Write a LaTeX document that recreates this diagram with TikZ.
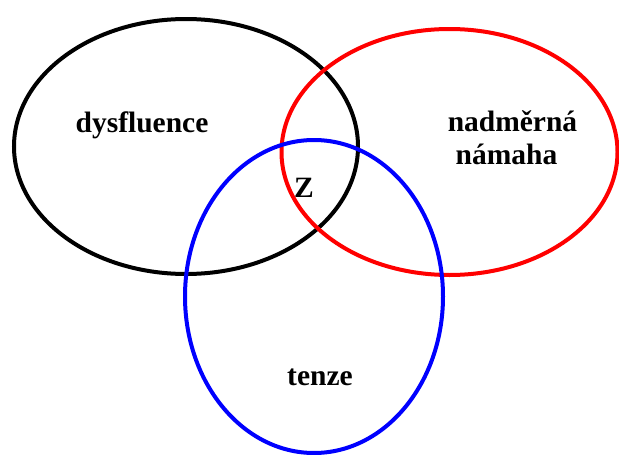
\documentclass[tikz,border=0pt]{standalone}
\usepackage{fontspec}
\setmainfont{Liberation Serif}
\begin{document}
\begin{tikzpicture}[x=1pt,y=-1pt,
  ring/.style={line width=4pt},
  lbl/.style={font=\fontsize{29.5}{32}\selectfont\bfseries, anchor=base, inner sep=0pt}]
\useasboundingbox (0,0) rectangle (619,455);
\draw[ring,black] (186,146.5) ellipse [x radius=172, y radius=127.5];
\draw[ring,red] (449.5,152) ellipse [x radius=168, y radius=123];
\draw[ring,blue] (314,296.5) ellipse [x radius=129, y radius=156.5];
\node[lbl] (dys) at (142,132) {dysfluence};
\node[lbl] (nad) at (512.5,131) {nadměrná};
\node[lbl] (nam) at (506.5,164) {námaha};
\node[lbl] (z) at (304,197) {Z};
\node[lbl] (ten) at (320,385) {tenze};
\end{tikzpicture}
\end{document}
